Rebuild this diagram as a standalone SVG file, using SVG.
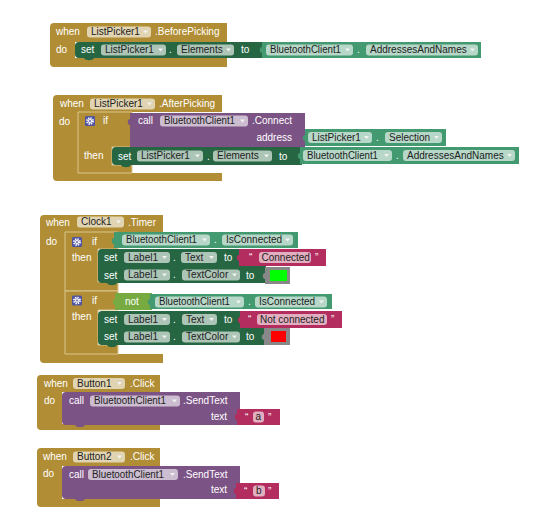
<svg xmlns="http://www.w3.org/2000/svg" width="540" height="514" viewBox="0 0 540 514">
<defs>
<style>
text{font-family:"Liberation Sans",Arial,sans-serif;font-size:10px;fill:#fff}
.ev{fill:#b18e35}
.ifb{fill:#b18e35;stroke:#d9c58f;stroke-width:1}
.set{fill:#266643}
.get{fill:#439970}
.call{fill:#7c5385}
.str{fill:#b32d5e}
.not{fill:#77ab41}
.colb{fill:#888}
.f{fill:#fff;fill-opacity:.62}
.ft{fill:#222}
.ar{fill:#f2f2f2}
.mu{fill:#5053a3}
</style>
<g id="gear">
<circle r="2.8" fill="none" stroke="#fff" stroke-width="2.2" stroke-dasharray="1.3 0.9"/>
<circle r="2" fill="#fff"/>
<circle r="0.9" fill="#5053a3"/>
</g>
</defs>

<g id="before-picking">
<path class="ev" d="M50,27 Q50,23 54,23 H227 V42 H75 V58 H227 V67 H54 Q50,67 50,63 Z"/>
<text x="56" y="35">when</text>
<rect class="f" x="87" y="26.5" width="64" height="11" rx="3"/><text class="ft" x="91" y="35">ListPicker1</text><polygon class="ar" points="143,30.5 148,30.5 145.5,33.5"/>
<text x="155" y="35">.BeforePicking</text>
<text x="56" y="53">do</text>
<path class="set" d="M79,42 H265 V58 H94 c-1,3 -9,3 -10,0 H79 Q75,58 75,54 V46 Q75,42 79,42 Z"/>
<text x="81" y="53">set</text>
<rect class="f" x="101" y="44.5" width="65" height="11" rx="3"/><text class="ft" x="105" y="53">ListPicker1</text><polygon class="ar" points="158,48.5 163,48.5 160.5,51.5"/>
<text x="169" y="53">.</text>
<rect class="f" x="177" y="44.5" width="57" height="11" rx="3"/><text class="ft" x="181" y="53">Elements</text><polygon class="ar" points="226,48.5 231,48.5 228.5,51.5"/>
<text x="241" y="53">to</text>
<path class="get" d="M262,42 H481 V58 H262 V53 c-3,0 -3,-6 0,-6 Z"/>
<rect class="f" x="266" y="44.5" width="87" height="11" rx="3"/><text class="ft" x="270" y="53" textLength="71" lengthAdjust="spacingAndGlyphs">BluetoothClient1</text><polygon class="ar" points="345,48.5 350,48.5 347.5,51.5"/>
<text x="357" y="53">.</text>
<rect class="f" x="366" y="44.5" width="112" height="11" rx="3"/><text class="ft" x="370" y="53">AddressesAndNames</text><polygon class="ar" points="470,48.5 475,48.5 472.5,51.5"/>
</g>

<g id="after-picking">
<path class="ev" d="M53,99 Q53,95 57,95 H222 V112 H78 V173 H222 V181 H57 Q53,181 53,177 Z"/>
<path class="ifb" d="M78,112 H132 V147 H112 V165 H132 V173 H78 Z"/>
<text x="60" y="107">when</text>
<rect class="f" x="90" y="98.5" width="65" height="11" rx="3"/><text class="ft" x="94" y="107">ListPicker1</text><polygon class="ar" points="147,102.5 152,102.5 149.5,105.5"/>
<text x="159" y="107">.AfterPicking</text>
<text x="59" y="125">do</text>
<rect class="mu" x="85" y="116" width="10" height="10" rx="1.5"/><use href="#gear" x="90" y="121"/>
<text x="103" y="124">if</text>
<text x="84" y="159">then</text>
<path class="call" d="M130,113 H305 V147 H130 V125 c-3,0 -3,-6 0,-6 Z"/>
<text x="138" y="124">call</text>
<rect class="f" x="160" y="115.5" width="88" height="11" rx="3"/><text class="ft" x="164" y="124" textLength="71" lengthAdjust="spacingAndGlyphs">BluetoothClient1</text><polygon class="ar" points="240,119.5 245,119.5 242.5,122.5"/>
<text x="252" y="124">.Connect</text>
<text x="292" y="141" text-anchor="end">address</text>
<path class="get" d="M305,129 H446 V146 H305 V141 c-3,0 -3,-6 0,-6 Z"/>
<rect class="f" x="308" y="132" width="64" height="11" rx="3"/><text class="ft" x="312" y="140.5">ListPicker1</text><polygon class="ar" points="364,136 369,136 366.5,139"/>
<text x="376" y="140.5">.</text>
<rect class="f" x="385" y="132" width="57" height="11" rx="3"/><text class="ft" x="389" y="140.5">Selection</text><polygon class="ar" points="434,136 439,136 436.5,139"/>
<path class="set" d="M116,147 H302 V165 H131 c-1,3 -9,3 -10,0 H116 Q112,165 112,161 V151 Q112,147 116,147 Z"/>
<text x="118" y="159.5">set</text>
<rect class="f" x="137" y="150.5" width="66" height="11" rx="3"/><text class="ft" x="141" y="159">ListPicker1</text><polygon class="ar" points="195,154.5 200,154.5 197.5,157.5"/>
<text x="207" y="159.5">.</text>
<rect class="f" x="213" y="150.5" width="59" height="11" rx="3"/><text class="ft" x="217" y="159">Elements</text><polygon class="ar" points="264,154.5 269,154.5 266.5,157.5"/>
<text x="279" y="159.5">to</text>
<path class="get" d="M300,147 H519 V164 H300 V159 c-3,0 -3,-6 0,-6 Z"/>
<rect class="f" x="303" y="150" width="89" height="11" rx="3"/><text class="ft" x="307" y="158.5" textLength="71" lengthAdjust="spacingAndGlyphs">BluetoothClient1</text><polygon class="ar" points="384,154 389,154 386.5,157"/>
<text x="396" y="158.5">.</text>
<rect class="f" x="403" y="150" width="112" height="11" rx="3"/><text class="ft" x="407" y="158.5">AddressesAndNames</text><polygon class="ar" points="507,154 512,154 509.5,157"/>
</g>

<g id="clock-timer">
<path class="ev" d="M40,219 Q40,215 44,215 H163 V232 H65 V354 H163 V363 H44 Q40,363 40,359 Z"/>
<text x="46" y="226">when</text>
<rect class="f" x="77" y="216.5" width="47" height="11" rx="3"/><text class="ft" x="81" y="225">Clock1</text><polygon class="ar" points="116,220.5 121,220.5 118.5,223.5"/>
<text x="128" y="226">.Timer</text>
<text x="46" y="245">do</text>
<path class="ifb" d="M65,232 H118 V249 H98 V282 H118 V291 H65 Z"/>
<rect class="mu" x="72" y="237" width="10" height="10" rx="1.5"/><use href="#gear" x="77" y="242"/>
<text x="92" y="245">if</text>
<text x="72" y="261">then</text>
<path class="get" d="M114,232 H298 V248 H114 V244 c-3,0 -3,-6 0,-6 Z"/>
<rect class="f" x="122" y="234.5" width="88" height="11" rx="3"/><text class="ft" x="126" y="243" textLength="71" lengthAdjust="spacingAndGlyphs">BluetoothClient1</text><polygon class="ar" points="202,238.5 207,238.5 204.5,241.5"/>
<text x="214" y="243">.</text>
<rect class="f" x="222" y="234.5" width="71" height="11" rx="3"/><text class="ft" x="226" y="243">IsConnected</text><polygon class="ar" points="285,238.5 290,238.5 287.5,241.5"/>
<path class="set" d="M102,249 H240 V266 H98 V253 Q98,249 102,249 Z"/>
<text x="104" y="261">set</text>
<rect class="f" x="124" y="252" width="46" height="11" rx="3"/><text class="ft" x="128" y="260.5">Label1</text><polygon class="ar" points="162,256 167,256 164.5,259"/>
<text x="173" y="260.5">.</text>
<rect class="f" x="181" y="252" width="36" height="11" rx="3"/><text class="ft" x="185" y="260.5">Text</text><polygon class="ar" points="209,256 214,256 211.5,259"/>
<text x="224" y="261">to</text>
<path class="str" d="M239,249 H326 V266 H239 V261 c-3,0 -3,-6 0,-6 Z"/>
<text x="249" y="261">“</text>
<rect class="f" x="259" y="252" width="52" height="11" rx="3"/><text class="ft" x="261.5" y="260.5">Connected</text>
<text x="315" y="261">”</text>
<path class="set" d="M98,266 H266 V283 H117 c-1,3 -9,3 -10,0 H102 Q98,283 98,279 Z"/>
<text x="104" y="278.5">set</text>
<rect class="f" x="124" y="269.5" width="46" height="11" rx="3"/><text class="ft" x="128" y="278">Label1</text><polygon class="ar" points="162,273.5 167,273.5 164.5,276.5"/>
<text x="173" y="278">.</text>
<rect class="f" x="182" y="269.5" width="58" height="11" rx="3"/><text class="ft" x="186" y="278">TextColor</text><polygon class="ar" points="232,273.5 237,273.5 234.5,276.5"/>
<text x="246" y="278.5">to</text>
<path class="colb" d="M265,267 H290 V284 H265 V279 c-3,0 -3,-6 0,-6 Z"/>
<rect x="270" y="270" width="17" height="11" fill="#00ff00"/>

<path class="ifb" d="M65,291 H118 V310 H98 V345 H118 V354 H65 Z"/>
<rect class="mu" x="72" y="295.5" width="10" height="10" rx="1.5"/><use href="#gear" x="77" y="300.5"/>
<text x="92" y="304">if</text>
<text x="72" y="320">then</text>
<path class="not" d="M115,293 H152 V310 H115 V305 c-3,0 -3,-6 0,-6 Z"/>
<text x="125" y="305">not</text>
<path class="get" d="M150,294 H332 V309 H150 V305 c-3,0 -3,-6 0,-6 Z"/>
<rect class="f" x="155" y="296.5" width="89" height="11" rx="3"/><text class="ft" x="159" y="305" textLength="71" lengthAdjust="spacingAndGlyphs">BluetoothClient1</text><polygon class="ar" points="236,300.5 241,300.5 238.5,303.5"/>
<text x="248" y="305">.</text>
<rect class="f" x="255" y="296.5" width="72" height="11" rx="3"/><text class="ft" x="259" y="305">IsConnected</text><polygon class="ar" points="319,300.5 324,300.5 321.5,303.5"/>
<path class="set" d="M102,311 H241 V328 H98 V315 Q98,311 102,311 Z"/>
<text x="104" y="323">set</text>
<rect class="f" x="124" y="314" width="46" height="11" rx="3"/><text class="ft" x="128" y="322.5">Label1</text><polygon class="ar" points="162,318 167,318 164.5,321"/>
<text x="173" y="322.5">.</text>
<rect class="f" x="182" y="314" width="35" height="11" rx="3"/><text class="ft" x="186" y="322.5">Text</text><polygon class="ar" points="209,318 214,318 211.5,321"/>
<text x="224" y="323">to</text>
<path class="str" d="M240,311 H342 V328 H240 V323 c-3,0 -3,-6 0,-6 Z"/>
<text x="248" y="323">“</text>
<rect class="f" x="257" y="314" width="70" height="11" rx="3"/><text class="ft" x="260" y="322.5">Not connected</text>
<text x="331" y="323">”</text>
<path class="set" d="M98,328 H265 V345 H117 c-1,3 -9,3 -10,0 H102 Q98,345 98,341 Z"/>
<text x="104" y="340">set</text>
<rect class="f" x="124" y="331.5" width="46" height="11" rx="3"/><text class="ft" x="128" y="340">Label1</text><polygon class="ar" points="162,335.5 167,335.5 164.5,338.5"/>
<text x="173" y="340">.</text>
<rect class="f" x="182" y="331.5" width="58" height="11" rx="3"/><text class="ft" x="186" y="340">TextColor</text><polygon class="ar" points="232,335.5 237,335.5 234.5,338.5"/>
<text x="246" y="340">to</text>
<path class="colb" d="M264,328 H290 V345 H264 V340 c-3,0 -3,-6 0,-6 Z"/>
<rect x="271" y="331" width="15" height="11" fill="#ff0000"/>
</g>

<g id="button1-click">
<path class="ev" d="M37,379 Q37,375 41,375 H160 V392 H62 V424 H160 V430 H41 Q37,430 37,426 Z"/>
<text x="44" y="387">when</text>
<rect class="f" x="73" y="378" width="52" height="11" rx="3"/><text class="ft" x="77" y="386.5">Button1</text><polygon class="ar" points="117,382 122,382 119.5,385"/>
<text x="130" y="387">.Click</text>
<text x="44" y="404">do</text>
<path class="call" d="M66,392 H240 V425 H85 c-1,3 -9,3 -10,0 H66 Q62,425 62,421 V396 Q62,392 66,392 Z"/>
<text x="69" y="404">call</text>
<rect class="f" x="90" y="395.5" width="90" height="11" rx="3"/><text class="ft" x="94" y="404" textLength="72" lengthAdjust="spacingAndGlyphs">BluetoothClient1</text><polygon class="ar" points="172,399.5 177,399.5 174.5,402.5"/>
<text x="183" y="404">.SendText</text>
<text x="227" y="420" text-anchor="end">text</text>
<path class="str" d="M237,409 H280 V425 H237 V420 c-3,0 -3,-6 0,-6 Z"/>
<text x="245" y="420.5">“</text>
<rect class="f" x="253" y="411.5" width="11" height="11" rx="3"/><text class="ft" x="255.5" y="420">a</text>
<text x="268" y="420.5">”</text>
</g>

<g id="button2-click">
<path class="ev" d="M37,452 Q37,448 41,448 H160 V466 H62 V499 H160 V507 H41 Q37,507 37,503 Z"/>
<text x="43" y="460">when</text>
<rect class="f" x="73" y="451.5" width="52" height="11" rx="3"/><text class="ft" x="77" y="460">Button2</text><polygon class="ar" points="117,455.5 122,455.5 119.5,458.5"/>
<text x="130" y="460">.Click</text>
<text x="43" y="477">do</text>
<path class="call" d="M66,466 H240 V499 H85 c-1,3 -9,3 -10,0 H66 Q62,499 62,495 V470 Q62,466 66,466 Z"/>
<text x="69" y="477.5">call</text>
<rect class="f" x="88" y="469" width="90" height="11" rx="3"/><text class="ft" x="92" y="477.5" textLength="72" lengthAdjust="spacingAndGlyphs">BluetoothClient1</text><polygon class="ar" points="170,473 175,473 172.5,476"/>
<text x="183" y="477.5">.SendText</text>
<text x="227" y="493" text-anchor="end">text</text>
<path class="str" d="M236,483 H279 V499 H236 V494 c-3,0 -3,-6 0,-6 Z"/>
<text x="244" y="494.5">“</text>
<rect class="f" x="253" y="485.5" width="12" height="11" rx="3"/><text class="ft" x="256" y="494">b</text>
<text x="268" y="494.5">”</text>
</g>

<g id="connectors"></g>
</svg>
